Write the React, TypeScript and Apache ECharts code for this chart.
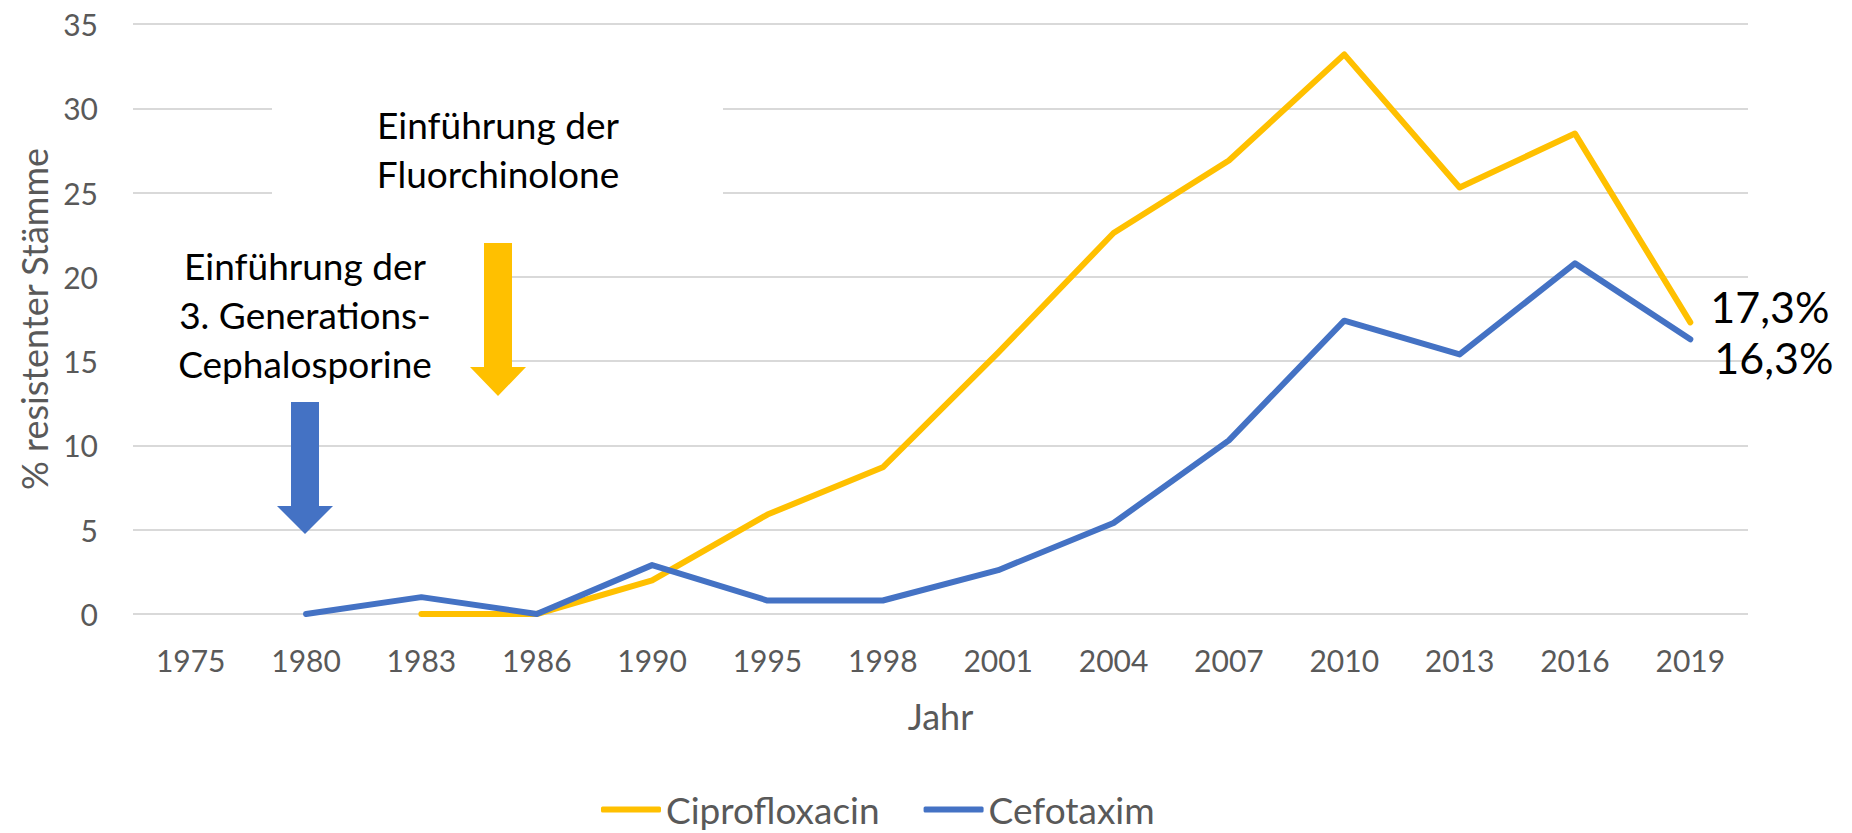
import React, { useEffect, useRef } from "react";
import * as echarts from "echarts";

const FONT = "Lato, 'Noto Sans', sans-serif";

const years = ["1975", "1980", "1983", "1986", "1990", "1995", "1998", "2001", "2004", "2007", "2010", "2013", "2016", "2019"];
const ciprofloxacin: (number | null)[] = [null, null, 0, 0, 2.0, 5.9, 8.7, 15.5, 22.6, 26.9, 33.2, 25.3, 28.5, 17.3];
const cefotaxim: (number | null)[] = [null, 0, 1.0, 0, 2.9, 0.8, 0.8, 2.6, 5.4, 10.3, 17.4, 15.4, 20.8, 16.3];
const seriesNames = ["Ciprofloxacin", "Cefotaxim"];
const yMin = 0;
const yMax = 35;
const yStep = 5;

const YELLOW = "#FFC000";
const BLUE = "#4472C4";

function endLabel(offset: number[], distance: number) {
  return {
    show: true,
    distance,
    offset,
    formatter: (p: any) => {
      const v = Array.isArray(p.value) ? p.value[p.value.length - 1] : p.value;
      return String(v).replace(".", ",") + "%";
    },
    fontSize: 43,
    fontFamily: FONT,
    color: "#000",
  };
}

export default function App() {
  const ref = useRef<HTMLDivElement>(null);
  useEffect(() => {
    if (!ref.current) return;
    const chart = echarts.init(ref.current, undefined, { renderer: "svg" });
    chart.setOption({
      animation: false,
      backgroundColor: "#fff",
      textStyle: { fontFamily: FONT },
      grid: { left: 133, right: 104, top: 24, bottom: 219, containLabel: false },
      legend: {
        left: 596,
        top: 786,
        itemWidth: 60,
        itemHeight: 6,
        itemGap: 44,
        icon: "roundRect",
        data: seriesNames,
        textStyle: { fontSize: 37, color: "#595959", fontFamily: FONT },
      },
      xAxis: {
        type: "category",
        data: years,
        boundaryGap: true,
        axisLine: { show: false },
        axisTick: { show: false },
        axisLabel: { fontSize: 30, color: "#595959", margin: 31, fontFamily: FONT, interval: 0 },
        name: "Jahr",
        nameLocation: "middle",
        nameGap: 84,
        nameTextStyle: { fontSize: 36, color: "#595959", fontFamily: FONT },
      },
      yAxis: {
        type: "value",
        min: yMin,
        max: yMax,
        interval: yStep,
        axisLine: { show: false },
        axisTick: { show: false },
        axisLabel: { fontSize: 30, color: "#595959", margin: 35, fontFamily: FONT },
        splitLine: { lineStyle: { color: "#D9D9D9", width: 2 } },
        name: "% resistenter Stämme",
        nameLocation: "middle",
        nameGap: 81,
        nameTextStyle: { fontSize: 36, color: "#595959", fontFamily: FONT },
      },
      series: [
        {
          name: seriesNames[0],
          type: "line",
          data: ciprofloxacin,
          showSymbol: false,
          symbol: "none",
          lineStyle: { color: YELLOW, width: 6, cap: "round", join: "round" },
          itemStyle: { color: YELLOW },
          endLabel: endLabel([0, -16], 20),
          z: 3,
        },
        {
          name: seriesNames[1],
          type: "line",
          data: cefotaxim,
          showSymbol: false,
          symbol: "none",
          lineStyle: { color: BLUE, width: 6, cap: "round", join: "round" },
          itemStyle: { color: BLUE },
          endLabel: endLabel([0, 18], 24),
          z: 4,
        },
      ],
      graphic: [
        { type: "rect", z: 100, shape: { x: 272, y: 90, width: 451, height: 122 }, style: { fill: "#fff" } },
        { type: "rect", z: 100, shape: { x: 125, y: 238, width: 360, height: 160 }, style: { fill: "#fff" } },
        {
          type: "text",
          z: 101,
          x: 498,
          y: 149,
          style: {
            text: "Einführung der\nFluorchinolone",
            fill: "#000",
            fontSize: 37,
            fontFamily: FONT,
            textAlign: "center",
            textVerticalAlign: "middle",
            lineHeight: 49,
          },
        },
        {
          type: "text",
          z: 101,
          x: 305,
          y: 314,
          style: {
            text: "Einführung der\n3. Generations-\nCephalosporine",
            fill: "#000",
            fontSize: 37,
            fontFamily: FONT,
            textAlign: "center",
            textVerticalAlign: "middle",
            lineHeight: 49,
          },
        },
        {
          type: "polygon",
          z: 101,
          shape: { points: [[484, 243], [512, 243], [512, 367], [526, 367], [498, 396], [470, 367], [484, 367]] },
          style: { fill: YELLOW },
        },
        {
          type: "polygon",
          z: 101,
          shape: { points: [[291, 402], [319, 402], [319, 506], [333, 506], [305, 534], [277, 506], [291, 506]] },
          style: { fill: BLUE },
        },
      ],
    });
    return () => chart.dispose();
  }, []);
  return <div ref={ref} style={{ position: "absolute", left: 0, top: 0, width: 1852, height: 833 }} />;
}
